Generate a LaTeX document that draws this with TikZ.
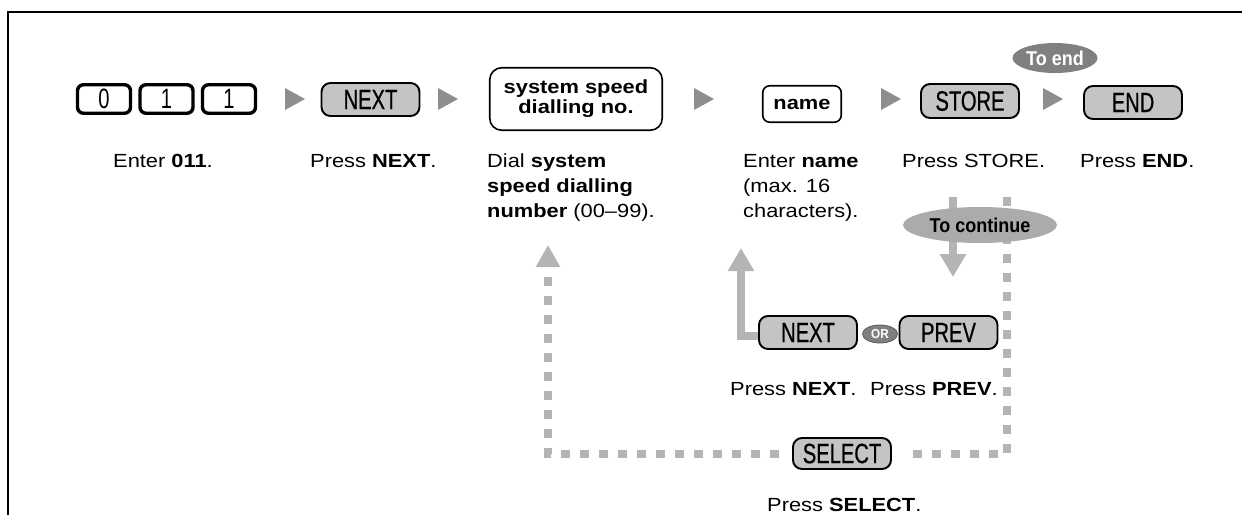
\documentclass[tikz,border=0pt]{standalone}
\usepackage{fontspec}
\setmainfont{Liberation Sans}[FakeStretch=1.15]
\newfontfamily\keyfont{Liberation Sans}[FakeStretch=0.72]
\newfontfamily\btnfont{Liberation Sans}[FakeStretch=0.72,FakeBold=0.6]
\newfontfamily\ovalfont{Liberation Sans}[FakeStretch=0.9]
\usetikzlibrary{shapes.geometric,arrows.meta,backgrounds}
\definecolor{btngray}{HTML}{C4C4C4}
\definecolor{trigray}{HTML}{8E8E8E}
\definecolor{linegray}{HTML}{B4B4B4}
\definecolor{darkoval}{HTML}{808080}
\definecolor{midoval}{HTML}{ABABAB}
\begin{document}
\begin{tikzpicture}[x=1pt,y=-1pt,
  keycap/.style={draw, line width=3.4pt, rounded corners=6pt, minimum width=53pt, minimum height=28.5pt, inner sep=0pt, font=\keyfont\fontsize{28}{28}\selectfont},
  btn/.style={draw, fill=btngray, line width=1.9pt, rounded corners=9pt, minimum width=98pt, minimum height=33pt, inner sep=0pt, font=\btnfont\fontsize{28}{28}\selectfont},
  entrybox/.style={draw, fill=white, line width=1.6pt, inner sep=0pt, align=center, font=\bfseries\fontsize{19}{20}\selectfont},
  lbl/.style={anchor=base west, inner sep=0pt, align=left, font=\fontsize{19}{25}\selectfont},
  oval/.style={ellipse, inner sep=0pt, font=\ovalfont\bfseries\fontsize{20}{20}\selectfont},
  septri/.style={fill=trigray},
  solidarrow/.style={draw=linegray, line width=8.5pt, line join=miter, -{Triangle[width=25pt,length=23pt]}},
  dashline/.style={draw=linegray, line width=8pt, dash pattern=on 9pt off 10pt}
]
\useasboundingbox (0,0) rectangle (1242,515);
% frame
\draw[line width=2.5pt, line join=miter] (1242,12) -- (8,12) -- (8,515);

% keys 0 1 1
\node[keycap] (k0) at (104,99) {0};
\node[keycap] (k1) at (166.5,99) {1};
\node[keycap] (k2) at (229,99) {1};
\fill[septri] (285,88) -- (305,99) -- (285,110) -- cycle;
\node[btn] (next1) at (370.5,99.5) {NEXT};
\fill[septri] (438,88) -- (458,99) -- (438,110) -- cycle;
\node[entrybox, rounded corners=12pt, minimum width=172.5pt, minimum height=62.5pt] (ssd) at (576,99) {system speed\\dialling no.};
\fill[septri] (694,88) -- (714,99) -- (694,110) -- cycle;
\node[entrybox, rounded corners=7pt, minimum width=78.5pt, minimum height=36.5pt] (name) at (802,104) {name};
\fill[septri] (881,88) -- (901,99) -- (881,110) -- cycle;
\node[btn, minimum height=34pt] (store) at (970,101) {STORE};
\fill[septri] (1043,88) -- (1063,99) -- (1043,110) -- cycle;
\node[btn] (end) at (1133,102.5) {END};
\node[oval, fill=darkoval, text=white, minimum width=85pt, minimum height=30pt] (toend) at (1055,58) {To end};

% labels row 1 (anchored at the baseline of the last line)
\node[lbl] (l1) at (113,167) {Enter \textbf{011}.};
\node[lbl] (l2) at (310,167) {Press \textbf{NEXT}.};
\node[lbl] (l3) at (487,217) {Dial \textbf{system}\\\textbf{speed dialling}\\\textbf{number} (00–99).};
\node[lbl] (l4) at (743,217) {Enter \textbf{name}\\(max. 16\\characters).};
\node[lbl] (l5) at (902,167) {Press STORE.};
\node[lbl] (l6) at (1080,167) {Press \textbf{END}.};

% lower buttons
\node[btn] (next2) at (808,332.5) {NEXT};
\node[oval, fill=darkoval, text=white, draw=darkoval!70!black, line width=0.8pt, minimum width=35pt, minimum height=18pt, font=\ovalfont\bfseries\fontsize{13}{13}\selectfont] (or) at (880,334) {OR};
\node[btn] (prev) at (948.5,332.5) {PREV};
\node[lbl] (l7) at (730,395) {Press \textbf{NEXT}.};
\node[lbl] (l8) at (870,395) {Press \textbf{PREV}.};
\node[btn, minimum height=31pt] (sel) at (842,453.5) {SELECT};
\node[lbl] (l9) at (767,511) {Press \textbf{SELECT}.};

% connector coordinates
\coordinate (rtop) at (1007,197);
\coordinate (ltip) at (548,245);
\coordinate (ncorner) at (741,336);
\coordinate (ntip) at (741,248);
\coordinate (dtop) at (953,197);
\coordinate (dtip) at (953,277);

\begin{scope}[on background layer]
\draw[dashline, shorten >=13pt] (rtop) |- (sel.east);
\draw[dashline, shorten <=13pt, -{Triangle[width=23pt,length=22pt]}] (sel.west) -| (ltip);
\draw[solidarrow] (next2.west |- ncorner) -- (ncorner) -- (ntip);
\draw[solidarrow] (dtop) -- (dtip);
\end{scope}

\node[oval, fill=midoval, minimum width=154pt, minimum height=36pt] (tocont) at (980,225) {To continue};
\end{tikzpicture}
\end{document}
